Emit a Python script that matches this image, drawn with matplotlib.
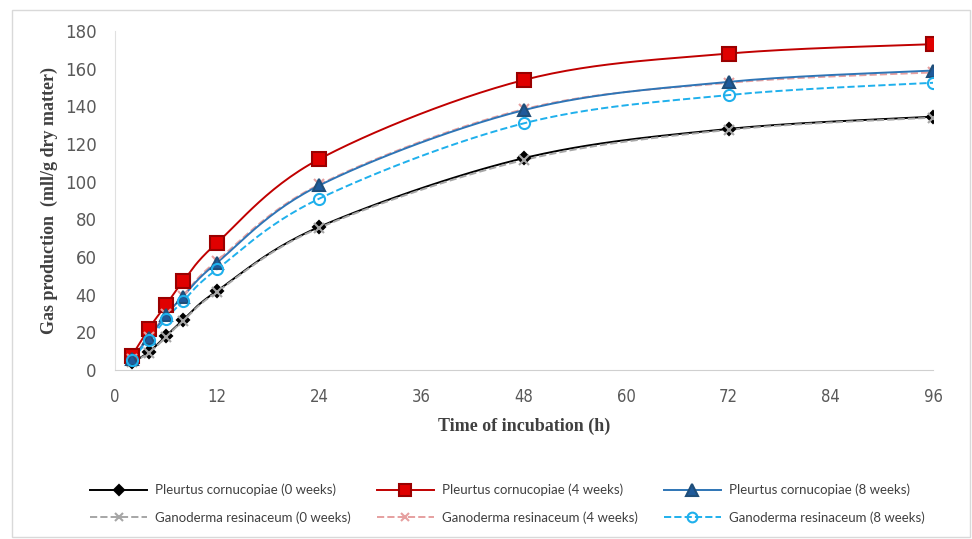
import numpy as np
import matplotlib.pyplot as plt
from matplotlib.patches import Rectangle

hours = [2, 4, 6, 8, 12, 24, 48, 72, 96]

pc_0w = [4, 9.5, 18, 26.5, 42, 76, 112.5, 128, 134.5]
pc_4w = [7.5, 22, 34.5, 47, 67.5, 112, 154, 168, 173]
pc_8w = [6, 17, 29, 39, 57, 98, 138, 153, 159]
gr_0w = [4, 9, 17.5, 26, 41.5, 75.5, 111.5, 127.5, 134]
gr_4w = [6, 17.5, 29.5, 39.5, 58, 98.5, 138.5, 152.5, 158]
gr_8w = [5.5, 16, 27, 36.5, 53.5, 91, 131, 146, 152.5]

xticks = [0, 12, 24, 36, 48, 60, 72, 84, 96]
yticks = [0, 20, 40, 60, 80, 100, 120, 140, 160, 180]


def smooth(x, y, n=30):
    # Excel-style smoothed line (bezier segments)
    x = np.asarray(x, float)
    y = np.asarray(y, float)
    px = np.concatenate([[x[0]], x, [x[-1]]])
    py = np.concatenate([[y[0]], y, [y[-1]]])
    xs, ys = [], []
    for i in range(len(x) - 1):
        p0 = np.array([px[i + 1], py[i + 1]])
        p3 = np.array([px[i + 2], py[i + 2]])
        p1 = p0 + (p3 - np.array([px[i], py[i]])) / 6
        p2 = p3 - (np.array([px[i + 3], py[i + 3]]) - p0) / 6
        t = np.linspace(0, 1, n)[:, None]
        b = (1 - t) ** 3 * p0 + 3 * (1 - t) ** 2 * t * p1 + 3 * (1 - t) * t ** 2 * p2 + t ** 3 * p3
        xs.append(b[:, 0])
        ys.append(b[:, 1])
    return np.concatenate(xs), np.concatenate(ys)


fig = plt.figure(figsize=(9.72, 5.39), dpi=100)
ax = fig.add_axes([0.118, 0.3135, 0.842, 0.629])

series = [
    ("Pleurtus cornucopiae (0 weeks)", pc_0w, "black", "-", "D", "black", "black", 6.5),
    ("Ganoderma resinaceum (0 weeks)", gr_0w, "#a6a6a6", "--", "x", "#a6a6a6", "#a6a6a6", 7),
    ("Pleurtus cornucopiae (4 weeks)", pc_4w, "#c00000", "-", "s", "#e00000", "#9a0000", 10),
    ("Ganoderma resinaceum (4 weeks)", gr_4w, "#e6a0a0", "--", "x", "#e6a0a0", "#e6a0a0", 7),
    ("Pleurtus cornucopiae (8 weeks)", pc_8w, "#2e75b6", "-", "^", "#1f5a9a", "#1f4e79", 9),
    ("Ganoderma resinaceum (8 weeks)", gr_8w, "#1fb0ec", "--", "o", "none", "#1fb0ec", 8),
]

handles = []
for label, vals, col, ls, mk, mfc, mec, ms in series:
    sx, sy = smooth(hours, vals)
    ax.plot(sx, sy, color=col, ls=ls, lw=1.4, zorder=2)
    ax.plot(hours, vals, ls="none", marker=mk, ms=ms, mfc=mfc, mec=mec,
            mew=1.5, zorder=3)
    h, = ax.plot([], [], color=col, ls=ls, lw=1.4, marker=mk, ms=ms - 1,
                 mfc=mfc, mec=mec, mew=1.5, label=label)
    handles.append(h)

ax.set_xlim(0, 96)
ax.set_ylim(0, 180)
ax.set_xticks(xticks)
ax.set_yticks(yticks)
ax.tick_params(length=0, labelsize=12, labelcolor="#595959", pad=13)
for t in ax.get_xticklabels():
    t.set_fontstretch("condensed")
for s in ["top", "right"]:
    ax.spines[s].set_visible(False)
ax.spines["left"].set_color("#e0e0e0")
ax.spines["bottom"].set_color("#d0d0d0")

ax.set_xlabel("Time of incubation (h)", family="Liberation Serif",
              fontweight="bold", fontsize=13, color="#404040", labelpad=8)
ax.set_ylabel("Gas production  (mll/g dry matter)", family="Liberation Serif",
              fontweight="bold", fontsize=13, color="#404040", labelpad=5)

leg = fig.legend(handles=handles, ncol=3, loc="center", bbox_to_anchor=(0.522, 0.065),
                 frameon=False, prop={"family": "Lato", "size": 9.5},
                 handlelength=4.3, columnspacing=2.0,
                 labelspacing=1.15, handletextpad=0.6)
for t in leg.get_texts():
    t.set_color("#404040")

fig.patches.append(Rectangle((12 / 972, 2 / 539), 958 / 972, 527 / 539,
                             transform=fig.transFigure, fill=False,
                             ec="#d9d9d9", lw=1))

fig.savefig("out.png", dpi=100)
